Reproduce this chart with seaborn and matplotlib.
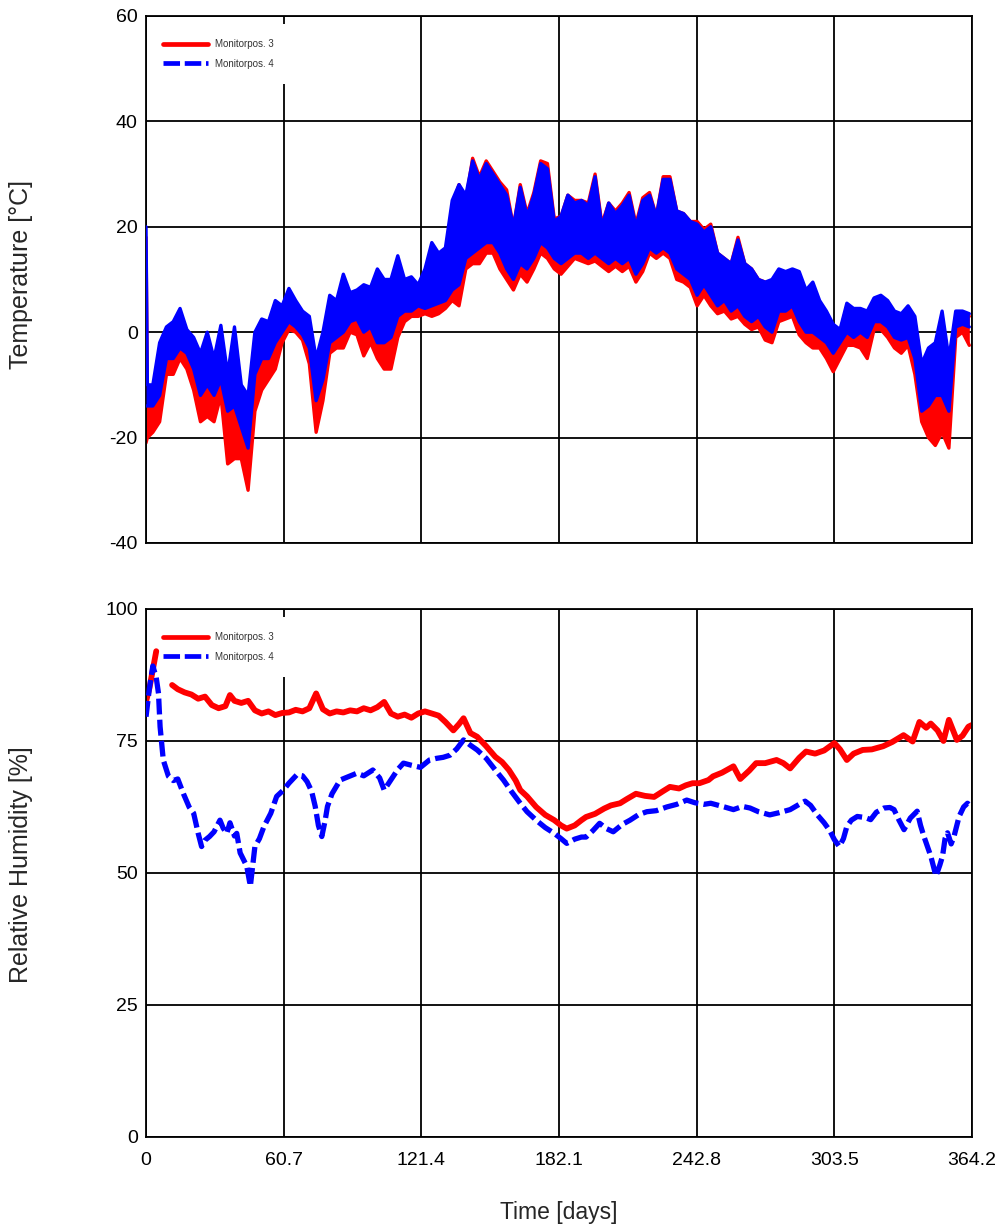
import matplotlib
matplotlib.use("Agg")
import matplotlib.pyplot as plt
from matplotlib.lines import Line2D
import seaborn as sns

# ---------------- data ----------------
# Temperature: daily envelope (upper / lower) sampled every ~3 days
T_DAYS = [0, 0.6, 3, 6, 9, 12, 15, 18, 21, 24, 27, 30, 33, 36, 39, 42, 45, 48, 51, 54,
          57, 60, 63, 66, 69, 72, 75, 78, 81, 84, 87, 90, 93, 96, 99, 102, 105, 108, 111, 114,
          117, 120, 123, 126, 129, 132, 135, 138, 141, 144, 147, 150, 153, 156, 159, 162, 165, 168, 171, 174,
          177, 180, 183, 186, 189, 192, 195, 198, 201, 204, 207, 210, 213, 216, 219, 222, 225, 228, 231, 234,
          237, 240, 243, 246, 249, 252, 255, 258, 261, 264, 267, 270, 273, 276, 279, 282, 285, 288, 291, 294,
          297, 300, 303, 306, 309, 312, 315, 318, 321, 324, 327, 330, 333, 336, 339, 342, 345, 348, 351, 354,
          357, 360, 363]
# Monitorpos. 4 (blue) upper / lower
T4_HI = [20, -10, -10, -2, 1, 2, 4.5, 0.5, -1, -4, 0, -5, 1.3, -8, 1, -10, -12, 0, 2.5, 2,
         6, 5, 8.3, 6, 4, 3, -5, 0, 7, 6, 11, 7.5, 8, 9, 8.5, 12, 10, 10, 14.5, 10,
         10.5, 9, 12, 17, 15, 16, 25, 28, 26, 32.5, 29, 32, 30, 28, 26, 20, 27.5, 22, 26, 32,
         31, 21, 22, 26, 24.5, 25, 24, 29.5, 20, 24.5, 22.5, 24, 26, 20, 25, 26, 22, 29, 29, 23,
         22.5, 21, 20.5, 19, 20, 15, 14, 13, 17.5, 13, 12, 10, 9.5, 10, 12, 11.5, 12, 11.5, 8, 9.5,
         6, 4, 1.5, 0.5, 5.5, 4.5, 4.5, 4, 6.5, 7, 6, 4, 3.5, 5, 3, -6, -3, -2, 4, -5,
         4, 4, 3.5]
T4_LO = [-14, -14, -14, -12, -5, -5, -3, -4, -7, -12, -10, -12, -9, -15, -14, -18, -22, -8, -5, -5,
         -2, 0, 2, 1, -0.5, -3, -13, -9, -2, -1, 0, 2, 2.5, 0, 1, -2, -2, -1, 3, 4,
         4, 5, 4.5, 5, 5.5, 6, 8, 9, 14, 15, 16, 17, 17, 15, 12, 10, 13, 12, 14, 17,
         16, 14, 13, 14, 15, 15, 14, 15, 14, 13, 14, 13, 14, 11, 13, 16, 15, 16, 15, 12,
         11, 10, 7, 9, 7, 5, 6, 4, 5, 3, 2, 3, 1, 0, 4, 4, 5, 2, 0, 0,
         -1, -2, -4, -2, 0, -1, 0, -1, 2, 2, 1, -1, -1.5, -1, -5, -15, -14, -12, -12, -15,
         1, 1.5, 1]
# Monitorpos. 3 (red) upper / lower
T3_HI = [18, -11, -11, -4, 0, 1, 3, -0.5, -2, -5, -1, -6, 0, -9, 0, -12, -14, -2, 0, 1,
         4, 3, 5, 4, 2.5, 1, -7, -2, 5, 4, 8, 6, 6, 7, 7, 10, 8, 8, 12, 9,
         9, 8, 10, 15, 13, 14, 24, 28, 25, 33, 29.5, 32.5, 30.5, 28.5, 27, 20, 28, 22.5, 26.5, 32.5,
         32, 21.5, 22, 26, 25, 25, 24.5, 30, 20.5, 24.5, 23, 24.5, 26.5, 20.5, 25.5, 26.5, 22, 29.5, 29.5, 23,
         22.5, 21, 21, 19.5, 20.5, 15, 14, 13, 18, 13, 12, 10, 9.5, 9.5, 11.5, 11, 11.5, 11, 7.5, 9,
         5.5, 3.5, 1, 0, 5, 4, 4, 3.5, 6, 6.5, 5.5, 3.5, 3, 4.5, 2, -7, -4, -3, 3, -6,
         3, 3.5, 3]
T3_LO = [-21, -20, -19, -17, -8, -8, -5, -7, -11, -17, -16, -17, -12, -25, -24, -24, -30, -15, -11, -9,
         -7, -2, 0.5, 0, -1.5, -6, -19, -13, -4, -3, -3, 0, -0.5, -4.5, -2, -5, -7, -7, -1, 2,
         3, 3, 3.5, 3, 3.5, 4.5, 6, 5, 12, 13, 13, 15, 15, 12, 10, 8, 11, 9.5, 12, 15,
         14, 12, 11, 12.5, 14, 13.5, 13, 13.5, 12.5, 11.5, 12.5, 11.5, 12.5, 9.5, 11.5, 15, 14, 15, 14, 10,
         9.5, 8.5, 5, 7, 5, 3.5, 4, 2.5, 3, 1.5, 0.5, 1, -1.5, -2, 2, 2.5, 3, -0.5, -2, -3,
         -3, -5, -7.5, -5, -2.5, -2.5, -3, -5, 0.5, 0.5, -1, -3, -4, -2.5, -8, -17, -20, -21.5, -19, -22,
         -1, 0, -2.5]

# Relative humidity, Monitorpos. 3 (red): two stretches (gap of missing data)
RH3_DAYS_A = [0, 1.5, 3, 4.5]
RH3_A = [82.5, 85, 88.5, 92]
RH3_DAYS_B = [11.5, 14, 17, 20, 23, 26, 29, 32, 35, 37, 39, 42, 45, 48, 51, 54, 57, 60, 63, 66,
              69, 72, 75, 78, 81, 84, 87, 90, 93, 96, 99, 102, 105, 108, 111, 114, 117, 120, 123, 126,
              129, 132, 135.5, 138, 140, 143, 146, 150, 154, 157, 160, 163, 165, 168, 172, 176, 180, 183, 185.5, 189,
              192, 194, 198, 202, 205, 209, 212, 216, 220, 224, 228, 231, 235, 238, 241, 244, 248, 250, 254, 259,
              262, 266, 269, 273, 278, 281, 284, 288, 291, 295, 299, 303.5, 306, 309, 312, 316, 320, 325, 329, 334,
              338, 341, 344, 346, 349, 351.6, 354, 357.5, 360, 362.6, 364]
RH3_B = [85.6, 84.8, 84.2, 83.8, 83.0, 83.4, 81.8, 81.2, 81.6, 83.7, 82.6, 82.2, 82.6, 80.8, 80.2, 80.6, 79.9, 80.3, 80.4, 80.9,
         80.6, 81.2, 84.0, 81.0, 80.2, 80.6, 80.4, 80.8, 80.6, 81.2, 80.8, 81.4, 82.4, 80.2, 79.6, 80.0, 79.4, 80.2, 80.6, 80.2,
         79.8, 78.6, 77.0, 78.2, 79.3, 76.5, 75.8, 74.0, 72.0, 71.0, 69.5, 67.5, 65.7, 64.5, 62.5, 61.0, 60.0, 59.0, 58.4, 59.0,
         60.0, 60.6, 61.2, 62.2, 62.8, 63.2, 64.0, 65.0, 64.6, 64.4, 65.5, 66.3, 66.0, 66.6, 67.0, 67.0, 67.6, 68.3, 69.0, 70.2,
         67.8, 69.4, 70.8, 70.8, 71.4, 70.8, 69.8, 71.8, 73.0, 72.6, 73.2, 74.6, 73.4, 71.4, 72.6, 73.3, 73.4, 74.0, 74.8, 76.1,
         74.9, 78.6, 77.5, 78.3, 77.0, 75.0, 79.0, 75.2, 76.0, 77.7, 78.0]

# Relative humidity, Monitorpos. 4 (blue)
RH4_DAYS = [0, 1.5, 3, 4.5, 5.5, 6.2, 7.6, 9.9, 12, 14, 16.5, 19, 21, 23, 24.5, 26, 28, 30, 32.6, 34,
            35.6, 37, 39, 40, 41.5, 43, 44.4, 46, 48, 50, 52, 55, 57.6, 60.6, 63, 66.5, 69, 71, 73, 74.6,
            76, 77.5, 79, 80, 82, 85.6, 89, 93, 96, 100, 103, 105, 107, 109, 111, 113.5, 117, 121, 125, 128,
            131, 134, 137, 140, 143, 146, 150, 154, 157.6, 161, 165, 168, 172, 176, 180, 183, 185.5, 189, 192, 194,
            197, 200, 203, 206, 210, 213.4, 217, 220.8, 225, 229.6, 234, 238.4, 242, 246, 249, 251.6, 255, 259, 263, 266.3,
            270, 275, 279, 284, 288, 290.6, 293, 296, 299, 301.5, 303.5, 305.7, 307.5, 309, 311, 313.6, 317, 319.5, 322, 325.4,
            328, 329.8, 332, 334.2, 337, 340, 341.5, 343, 346, 348.3, 350, 351.2, 352.3, 353.4, 355, 356.3, 357.5, 358.5, 360.5, 362.2,
            364]
RH4 = [79.6, 85, 89.2, 87, 84, 77.7, 71.4, 68.3, 67.5, 67.8, 65.0, 62.5, 61.3, 57.5, 55.0, 56.2, 56.9, 57.8, 60.0, 58.5,
       57.5, 59.5, 57.0, 57.5, 53.8, 52.5, 51.3, 47.5, 55.0, 56.5, 58.8, 61.3, 64.5, 65.7, 67.0, 68.6, 68.4, 67.3, 65.5, 62.6,
       59.0, 56.9, 60.0, 62.6, 65.0, 67.6, 68.2, 68.9, 68.4, 69.5, 68.0, 65.7, 67.0, 68.3, 69.6, 70.8, 70.4, 70.0, 71.4, 71.7,
       71.9, 72.3, 73.5, 75.2, 74.2, 73.3, 71.7, 69.5, 67.6, 65.5, 63.2, 61.6, 60.0, 58.6, 57.5, 56.5, 55.6, 56.4, 56.8, 56.8,
       58.0, 59.4, 58.4, 57.8, 59.2, 60.0, 61.0, 61.6, 61.8, 62.5, 63.0, 63.8, 63.3, 63.0, 63.2, 62.9, 62.5, 62.0, 62.6, 62.3,
       61.6, 61.0, 61.4, 62.0, 63.0, 63.6, 62.8, 61.0, 59.5, 58.0, 56.3, 55.0, 56.5, 58.8, 60.0, 60.7, 60.5, 60.1, 61.5, 62.3,
       62.4, 62.0, 60.0, 58.2, 60.4, 61.7, 59.0, 56.9, 53.2, 49.4, 51.5, 53.2, 56.5, 57.6, 55.5, 57.0, 59.0, 60.7, 62.5, 63.2,
       62.5]

X_TICKS = [0, 60.7, 121.4, 182.1, 242.8, 303.5, 364.2]
X_TICK_LABELS = ["0", "60.7", "121.4", "182.1", "242.8", "303.5", "364.2"]
T_TICKS = [-40, -20, 0, 20, 40, 60]
RH_TICKS = [0, 25, 50, 75, 100]
LEGEND_LABELS = ["Monitorpos. 3", "Monitorpos. 4"]

for arr in (T4_HI, T4_LO, T3_HI, T3_LO):
    assert len(arr) == len(T_DAYS), len(arr)
assert len(RH3_B) == len(RH3_DAYS_B)
assert len(RH4) == len(RH4_DAYS)

# ---------------- style ----------------
sns.set_style("white")
plt.rcParams["font.family"] = ["Liberation Sans", "DejaVu Sans"]
plt.rcParams["axes.unicode_minus"] = False

RED = "#ff0000"
BLUE = "#0000ff"

fig = plt.figure(figsize=(10.05, 12.29), dpi=100)
ax1 = fig.add_axes([0.1453, 0.5582, 0.8219, 0.4288])
ax2 = fig.add_axes([0.1453, 0.0749, 0.8219, 0.4296])

# ---------------- temperature ----------------
ax1.fill_between(T_DAYS, T3_LO, T3_HI, color=RED, lw=0, zorder=2)
sns.lineplot(x=T_DAYS, y=T3_HI, ax=ax1, color=RED, lw=2.4, zorder=2.1)
sns.lineplot(x=T_DAYS, y=T3_LO, ax=ax1, color=RED, lw=2.4, zorder=2.1)
ax1.fill_between(T_DAYS, T4_LO, T4_HI, color=BLUE, lw=0, zorder=3)
sns.lineplot(x=T_DAYS, y=T4_HI, ax=ax1, color=BLUE, lw=2.4, zorder=3.1)
sns.lineplot(x=T_DAYS, y=T4_LO, ax=ax1, color=BLUE, lw=2.4, zorder=3.1)

# ---------------- relative humidity ----------------
sns.lineplot(x=RH3_DAYS_A, y=RH3_A, ax=ax2, color=RED, lw=4.2, zorder=2)
sns.lineplot(x=RH3_DAYS_B, y=RH3_B, ax=ax2, color=RED, lw=4.2, zorder=2)
sns.lineplot(x=RH4_DAYS, y=RH4, ax=ax2, color=BLUE, lw=3.8, zorder=3,
             dashes=False, linestyle=(0, (3.0, 1.0)))

for ax, yt, ylim in ((ax1, T_TICKS, (-40, 60)), (ax2, RH_TICKS, (0, 100))):
    ax.set_xlim(0, 364.2)
    ax.set_ylim(*ylim)
    ax.set_xticks(X_TICKS)
    ax.set_yticks(yt)
    ax.set_yticklabels([str(v) for v in yt])
    ax.grid(True, color="black", lw=1.3, zorder=1)
    ax.set_axisbelow(True)
    for s in ax.spines.values():
        s.set_color("black")
        s.set_linewidth(1.3)
        s.set_visible(True)
    ax.tick_params(axis="y", length=0, labelsize=14, colors="black", pad=6)
    ax.tick_params(axis="x", length=0, labelsize=14, colors="black", pad=11)
    handles = [Line2D([], [], color=RED, lw=3.4),
               Line2D([], [], color=BLUE, lw=3.4, linestyle=(0, (3.5, 1.0)))]
    leg = ax.legend(handles, LEGEND_LABELS, loc="upper left", bbox_to_anchor=(0.002, 0.985),
                    borderaxespad=0, borderpad=1.6, fontsize=7, handlelength=4.6,
                    handletextpad=0.7, labelspacing=0.95, frameon=True, fancybox=False,
                    facecolor="white", edgecolor="none", framealpha=1)
    for t in leg.get_texts():
        t.set_color("#333333")
    leg.set_zorder(1.5)

ax1.set_xticklabels([])
ax2.set_xticklabels(X_TICK_LABELS)

ax1.set_ylabel("Temperature [°C]", fontsize=18)
ax2.set_ylabel("Relative Humidity [%]", fontsize=18)
ax1.yaxis.set_label_coords(-0.137, 0.51)
ax2.yaxis.set_label_coords(-0.137, 0.515)
ax2.set_xlabel("Time [days]", fontsize=16.5)
ax2.xaxis.set_label_coords(0.5, -0.122)

fig.savefig("out.png", dpi=100, facecolor="white")
